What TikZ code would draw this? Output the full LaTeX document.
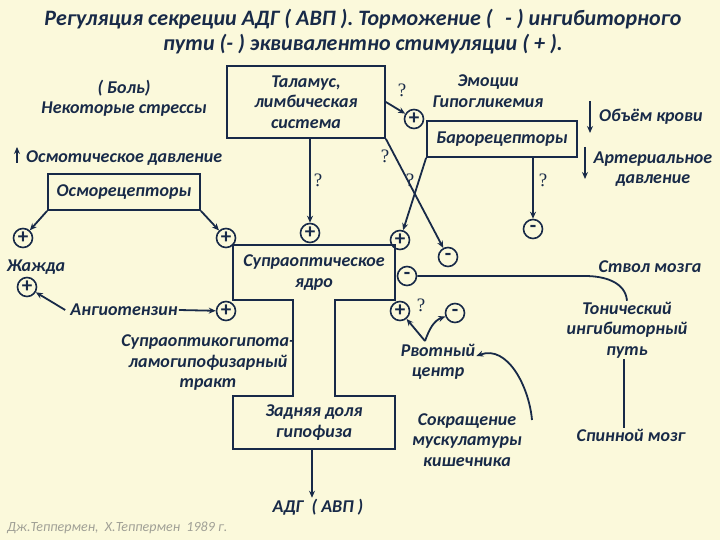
\documentclass[tikz,border=0pt]{standalone}
\usepackage{fontspec}
\setmainfont{Carlito}
\newfontfamily\qfont{Liberation Serif}
\usetikzlibrary{arrows.meta,positioning,calc}
\definecolor{ink}{RGB}{24,42,72}
\definecolor{paper}{RGB}{251,249,219}
\definecolor{citegray}{RGB}{160,160,150}
\tikzset{
  txt/.style      ={text=ink, align=center, inner sep=1pt,
                    font=\fontsize{18}{20.5}\selectfont\bfseries\itshape},
  box/.style      ={txt, rectangle, draw=ink, line width=1.8pt},
  sign/.style     ={circle, draw=ink, line width=1.6pt, minimum size=19pt,
                    inner sep=0pt, text=ink, font=\fontsize{21}{21}\selectfont\bfseries},
  qmark/.style    ={text=ink, inner sep=0pt, font=\fontsize{19}{19}\selectfont\qfont},
  arr/.style      ={-{Stealth[length=7pt,width=6pt]}, draw=ink, line width=1.8pt},
  link/.style     ={draw=ink, line width=1.8pt},
}

\begin{document}
\begin{tikzpicture}[x=1pt,y=-1pt]
  \useasboundingbox (0,0) rectangle (720,540);
  \fill[paper] (0,0) rectangle (720,540);

  % title
  \node[txt, font=\fontsize{22}{25}\selectfont\bfseries\itshape] (title) at (363,32)
    {Регуляция секреции АДГ ( АВП ). Торможение (\,\, - ) ингибиторного\\
     пути (- ) эквивалентно стимуляции ( + ).};

  % upper row
  \node[txt] (pain) at (124,98) {( Боль)\\Некоторые стрессы};
  \node[box, minimum width=158pt, minimum height=72pt] (thal) at (306,102)
    {Таламус,\\лимбическая\\система};
  \node[txt] (emo) at (488,91) {Эмоции\\Гипогликемия};
  \node[box, minimum width=150pt, minimum height=36pt] (baro) at (502,139) {Барорецепторы};
  \node[txt, anchor=west] (vol) at (598,117) {Объём крови};
  \node[txt] (art) at (653,169) {Артериальное\\давление};
  \node[txt, anchor=west] (osmp) at (25,158) {Осмотическое давление};
  \node[box, minimum width=152pt, minimum height=36pt] (osmo) at (124,192) {Осморецепторы};

  % small up/down arrows
  \coordinate (osmpA) at (17,163);  \coordinate (osmpB) at (17,147);
  \coordinate (volA)  at (590,101); \coordinate (volB)  at (590,133);
  \coordinate (artA)  at (585,147); \coordinate (artB)  at (585,179);
  \draw[arr] (osmpA) -- (osmpB);
  \draw[arr] (volA) -- (volB);
  \draw[arr] (artA) -- (artB);

  % supraoptic nucleus and posterior pituitary (one outline)
  \node[txt, minimum width=162pt, minimum height=55pt] (son) at (314,272.5)
    {Супраоптическое\\ядро};
  \node[txt, minimum width=162pt, minimum height=53pt] (pit) at (314,422.5)
    {Задняя доля\\гипофиза};
  \draw[link] (son.north west) -- (son.north east) -- (son.south east)
    -- ([xshift=-60pt]son.south east) -- ([xshift=-60pt]pit.north east)
    -- (pit.north east) -- (pit.south east) -- (pit.south west) -- (pit.north west)
    -- ([xshift=60pt]pit.north west) -- ([xshift=60pt]son.south west)
    -- (son.south west) -- cycle;
  \node[txt] (adh) at (318,507) {АДГ\ \ ( АВП )};
  \draw[arr] (pit.south -| 312,0) -- (adh.north -| 312,0);

  % signs
  \node[sign] (pThirst)  at (23,238) {+};
  \node[sign] (pThirst2) at (27,287) {+};
  \node[sign] (pSL)   at (226,238) {+};
  \node[sign] (pAng)  at (226,311) {+};
  \node[sign] (pT)    at (310,233) {+};
  \node[sign] (pTR)   at (400,240) {+};
  \node[sign] (mR)    at (407,276) {-};
  \node[sign] (pBR)   at (400,311) {+};
  \node[sign] (pBaro) at (414,119) {+};
  \node[sign] (mHyp)  at (448,257) {-};
  \node[sign] (mBaro) at (533,229) {-};
  \node[sign] (mVom)  at (455,313) {-};

  % left side
  \node[txt] (thirst) at (36,267) {Жажда};
  \node[txt] (ang) at (124,310) {Ангиотензин};
  \node[txt] (tract) at (208,363) {Супраоптикогипота-\\ламогипофизарный\\тракт};
  \draw[arr] (osmo.south west) -- (pThirst);
  \draw[arr] (osmo.south east) -- (pSL);
  \draw[arr] (ang.east) -- (pAng);
  \draw[arr] ([xshift=-4pt]ang.west) -- (pThirst2);

  % thalamus and baroreceptor paths
  \draw[arr] (pT |- thal.south) -- (pT);
  \node[qmark] (q1) at (318,180) {?};
  \draw[arr] (thal.east) -- (pBaro);
  \node[qmark] (q2) at (402,90) {?};
  \draw[arr] (thal.south east) -- (mHyp);
  \node[qmark] (q3) at (385,156) {?};
  \draw[arr] (baro.south west) -- (pTR);
  \node[qmark] (q4) at (410,180) {?};
  \draw[arr] (mBaro |- baro.south) -- (mBaro);
  \node[qmark] (q5) at (543,180) {?};

  % right side
  \node[txt] (stem) at (650,267) {Ствол мозга};
  \node[txt] (tonic) at (627,330) {Тонический\\ингибиторный\\путь};
  \node[txt] (spinal) at (631,435) {Спинной мозг};
  \draw[link] (mR) -- (585,276) to[out=0,in=95] (tonic.north);
  \draw[link] (tonic.south -| 624,0) -- (spinal.north -| 624,0);

  % vomiting centre
  \node[txt] (vom) at (438,362) {Рвотный\\центр};
  \node[txt] (gut) at (467,440) {Сокращение\\мускулатуры\\кишечника};
  \coordinate (vfork) at (425,341);
  \coordinate (gutTop) at (532,420);
  \draw[arr] (vfork) -- (pBR);
  \draw[arr] (vfork) to[out=70,in=200] (mVom);
  \node[qmark] (q6) at (421,305) {?};
  \draw[arr] (gutTop) to[out=95,in=20] ([yshift=6pt]vom.east);

  % source
  \node[anchor=west, inner sep=0pt, text=citegray,
        font=\fontsize{14}{14}\selectfont\itshape] (cite) at (7,528)
    {Дж.Теппермен,\ \ Х.Теппермен\ \ 1989 г.};
\end{tikzpicture}
\end{document}
